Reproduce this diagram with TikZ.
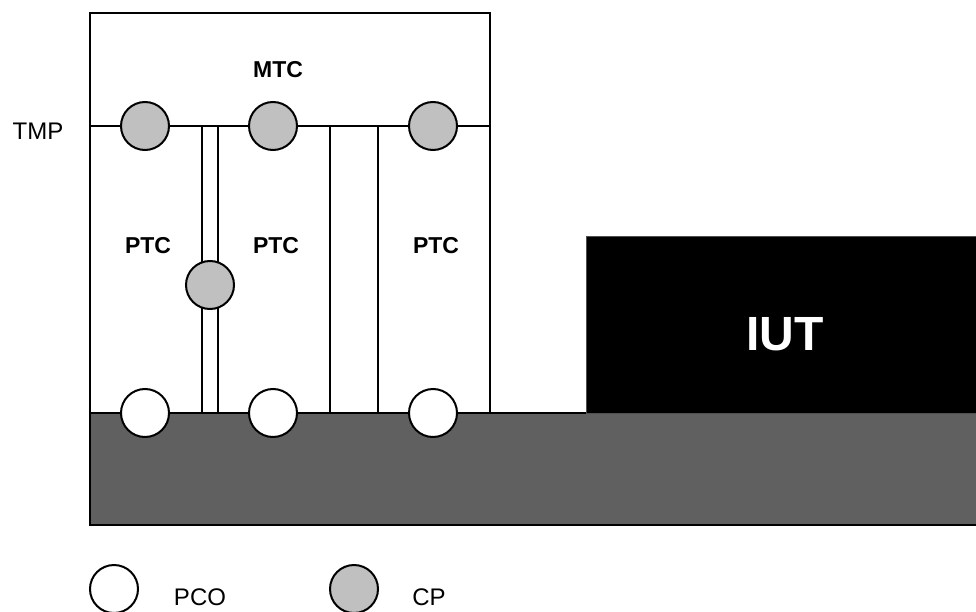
\documentclass[tikz,border=0pt]{standalone}
\usepackage{fontspec}
\setmainfont{Liberation Sans}
\usepackage{tikz}
\definecolor{cpGray}{RGB}{192,192,192}
\definecolor{netGray}{RGB}{96,96,96}
\definecolor{iutEdge}{RGB}{80,80,80}

\begin{document}
\begin{tikzpicture}[x=1pt,y=-1pt,
  pco/.style={circle,draw=black,line width=2pt,fill=white,minimum size=48pt,inner sep=0pt},
  cp/.style={pco,fill=cpGray},
  lbl/.style={font=\bfseries\fontsize{23}{26}\selectfont},
  txt/.style={font=\fontsize{24}{27}\selectfont}]
\useasboundingbox (0,0) rectangle (976,612);
% underlying service provider and IUT
\draw[line width=2pt, fill=netGray] (90,413) rectangle (990,525);
\draw[iutEdge, line width=1pt, fill=black] (586,237) rectangle (990,413);
\node[text=white, font=\bfseries\fontsize{48}{52}\selectfont] (iut) at (785,334) {IUT};
% tester frame, TMP line and PTC walls
\draw[line width=2pt] (90,413) -- (90,13) -- (490,13) -- (490,413);
\draw[line width=2pt] (90,126) -- (490,126);
\foreach \x in {202,218,330,378}
{
    \draw[line width=2pt] (\x,126) -- (\x,413);
}
% points of control and observation
\node[cp] (cpA) at (145,126) {};
\node[cp] (cpB) at (273,126) {};
\node[cp] (cpC) at (433,126) {};
\node[cp] (cpD) at (210,285) {};
\node[pco] (pcoA) at (145,413) {};
\node[pco] (pcoB) at (273,413) {};
\node[pco] (pcoC) at (433,413) {};
% labels
\node[lbl] (mtc) at (278,70) {MTC};
\node[lbl] (ptcA) at (148,246) {PTC};
\node[lbl] (ptcB) at (276,246) {PTC};
\node[lbl] (ptcC) at (436,246) {PTC};
\node[txt] (tmp) at (38,131) {TMP};
% legend
\node[pco] (legPco) at (114,589) {};
\node[txt] (pcoTxt) at (200,597) {PCO};
\node[cp] (legCp) at (354,589) {};
\node[txt] (cpTxt) at (429,597) {CP};
\end{tikzpicture}
\end{document}
